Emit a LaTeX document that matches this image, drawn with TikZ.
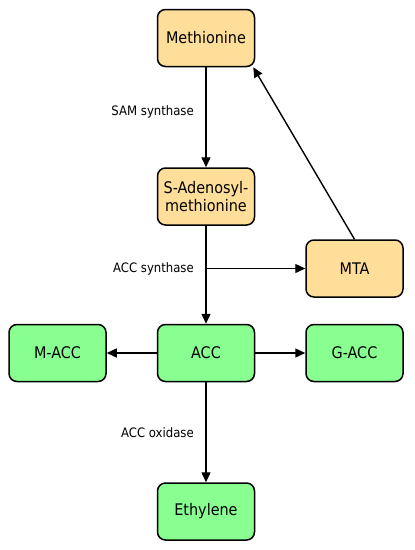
\documentclass[tikz,border=0pt]{standalone}
\usepackage{fontspec}
\setmainfont{DejaVu Sans Condensed}
\usepackage{xcolor}
\usetikzlibrary{arrows.meta, positioning, calc}

\definecolor{metorange}{RGB}{255,222,153}
\definecolor{accgreen}{RGB}{136,255,144}

\begin{document}
\begin{tikzpicture}[
    x=1pt, y=-1pt,
    node distance=100pt and 50pt,
    box/.style={rectangle, rounded corners=8pt, draw=black, line width=1.5pt, minimum width=97pt, minimum height=57pt, align=center, inner sep=2pt, font=\fontsize{16}{18}\selectfont},
    metbox/.style={box, fill=metorange},
    accbox/.style={box, fill=accgreen},
    lbl/.style={font=\fontsize{13}{15}\selectfont, inner sep=2pt},
    arrow/.style={-{Triangle[length=10pt, width=9pt]}, line width=1.4pt}
]
\useasboundingbox (0,0) rectangle (415,550);

% Methionine-Zyklus (oben)
\node[metbox] (met) at (206,38) {Methionine};
\node[metbox, below=of met] (sam) {S-Adenosyl-\\methionine};

% ACC und Konjugate
\node[accbox, below=98pt of sam] (acc) {ACC};
\node[accbox, left=of acc] (macc) {M-ACC};
\node[accbox, right=of acc] (gacc) {G-ACC};
\node[metbox, above=26pt of gacc] (mta) {MTA};

% Ethylen
\node[accbox, below=of acc] (eth) {Ethylene};

% Verzweigung zu MTA
\coordinate (branch) at (sam.south |- mta.west);

% Enzym-Beschriftungen
\coordinate (samsyn) at ($(met.south)!0.45!(sam.north)$);
\coordinate (accox) at ($(acc.south)!0.5!(eth.north)$);
\node[lbl, left=10pt of samsyn] (samlbl) {SAM synthase};
\node[lbl, left=10pt of branch] (acslbl) {ACC synthase};
\node[lbl, left=10pt of accox] (acolbl) {ACC oxidase};

% Pfeile
\draw[arrow] (met) -- (sam);
\draw[arrow] (sam) -- (acc);
\draw[arrow] (branch) -- (mta);
\draw[arrow] (mta.north) -- ($(met.south east)+(-2,0)$);
\draw[arrow] (acc) -- (macc);
\draw[arrow] (acc) -- (gacc);
\draw[arrow] (acc) -- (eth);

\end{tikzpicture}
\end{document}
